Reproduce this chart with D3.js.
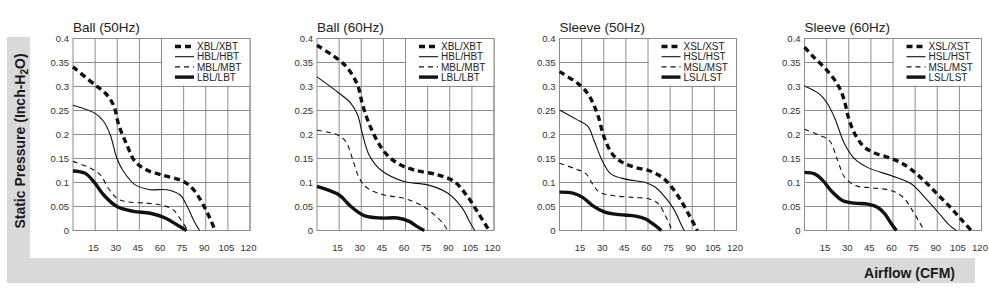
<!DOCTYPE html>
<html>
<head>
<meta charset="utf-8">
<script src="https://cdn.jsdelivr.net/npm/d3@7"></script>
<style>
  body { margin: 0; background: #fff; }
  svg { display: block; font-family: "Liberation Sans", Arial, sans-serif; }
</style>
</head>
<body>
<div id="chart"></div>
<script>
// airflow ticks (CFM) and static pressure ticks (inch H2O)
const xTicks = [15, 30, 45, 60, 75, 90, 105, 120];
const yTicks = [0, 0.05, 0.1, 0.15, 0.2, 0.25, 0.3, 0.35, 0.4];

const titles = ["Ball (50Hz)", "Ball (60Hz)", "Sleeve (50Hz)", "Sleeve (60Hz)"];
const ballNames = ["XBL/XBT", "HBL/HBT", "MBL/MBT", "LBL/LBT"];
const sleeveNames = ["XSL/XST", "HSL/HST", "MSL/MST", "LSL/LST"];

// Ball 50Hz  [cfm, pressure]
const ball50X = [[0,0.341],[15,0.303],[22,0.286],[27.5,0.261],[31,0.22],[36.6,0.178],[42,0.144],[50,0.126],[60,0.116],[75,0.102],[81.7,0.085],[89.6,0.046],[96.4,0]];
const ball50H = [[0,0.261],[15,0.244],[20.8,0.227],[25.3,0.199],[29.8,0.15],[34.3,0.123],[42.2,0.095],[52.4,0.085],[63.7,0.085],[72.7,0.074],[77,0.053],[81.7,0.022],[85.8,0]];
const ball50M = [[0,0.144],[11.7,0.13],[18.5,0.116],[24,0.088],[29.8,0.067],[36.6,0.06],[50,0.057],[60,0.053],[68,0.043],[73.8,0.019],[77,0.005],[78.3,0]];
const ball50L = [[0,0.124],[8.4,0.119],[15,0.098],[20.8,0.074],[29.8,0.05],[41,0.04],[52.4,0.036],[62.5,0.026],[70.4,0.012],[77,0]];

// Ball 60Hz
const ball60X = [[0,0.386],[15,0.355],[20.8,0.338],[27.5,0.303],[31,0.261],[36.6,0.213],[45.6,0.164],[54.6,0.14],[65.9,0.126],[81.7,0.116],[93,0.102],[102,0.071],[110,0.033],[116.7,0]];
const ball60H = [[0,0.32],[15,0.286],[23,0.265],[27.5,0.241],[31,0.199],[35.4,0.157],[43.3,0.126],[59,0.102],[75,0.095],[88.5,0.078],[98.6,0.046],[104,0.015],[107,0]];
const ball60M = [[0,0.209],[14,0.199],[19.6,0.185],[24,0.15],[28.7,0.109],[34.3,0.088],[45.6,0.074],[59,0.067],[70.4,0.053],[79.5,0.033],[86.2,0.012],[88.5,0]];
const ball60L = [[0,0.092],[15,0.074],[23,0.05],[32,0.031],[43.3,0.026],[54.6,0.026],[62.5,0.019],[68,0.008],[72.7,0]];

// Sleeve 50Hz
const sleeve50X = [[0,0.331],[14.6,0.301],[20.2,0.28],[25.8,0.242],[30.3,0.194],[35.9,0.159],[42.6,0.142],[51.6,0.131],[60.5,0.125],[69.5,0.111],[76.2,0.09],[83,0.059],[88.6,0.028],[93.5,0]];
const sleeve50H = [[0,0.251],[11.2,0.232],[19,0.218],[23.5,0.187],[29,0.145],[34.8,0.118],[44.8,0.107],[58.3,0.1],[65,0.09],[71.7,0.069],[77.4,0.045],[84,0.003],[84.8,0]];
const sleeve50M = [[0,0.14],[11.2,0.128],[18,0.118],[22.4,0.097],[26.9,0.08],[35.9,0.073],[49.3,0.069],[60.5,0.066],[67.3,0.055],[71.7,0.031],[75,0.01],[76.2,0]];
const sleeve50L = [[0,0.08],[9,0.078],[15.7,0.069],[22.4,0.052],[30.3,0.039],[40.4,0.033],[51.6,0.03],[58.3,0.024],[65,0.01],[69,0]];

// Sleeve 60Hz
const sleeve60X = [[0,0.382],[6.3,0.361],[14.2,0.337],[22.1,0.306],[26.6,0.275],[30,0.233],[34.5,0.199],[40.2,0.175],[47,0.162],[57,0.152],[65,0.142],[72,0.128],[81,0.104],[90,0.076],[99,0.048],[106,0.024],[113,0]];
const sleeve60H = [[0,0.301],[10.2,0.284],[15.8,0.263],[20.4,0.235],[27.2,0.18],[34,0.149],[43,0.131],[59,0.114],[72.5,0.097],[81.5,0.069],[90.6,0.038],[98.5,0.01],[103,0]];
const sleeve60M = [[0,0.211],[11.3,0.197],[17,0.187],[22.6,0.145],[27.2,0.111],[35,0.093],[45.3,0.089],[59,0.083],[67,0.069],[72.5,0.045],[78,0.017],[81,0]];
const sleeve60L = [[0,0.121],[6.8,0.118],[12.5,0.104],[18,0.083],[26,0.062],[34,0.057],[43,0.055],[49.8,0.048],[54.3,0.035],[58.9,0.014],[62.3,0]];

const panelData = [
  [ball50X, ball50H, ball50M, ball50L],
  [ball60X, ball60H, ball60M, ball60L],
  [sleeve50X, sleeve50H, sleeve50M, sleeve50L],
  [sleeve60X, sleeve60H, sleeve60M, sleeve60L]
];
const panelNames = [ballNames, ballNames, sleeveNames, sleeveNames];

// line styles: thick dashed, thin solid, thin dashed, thick solid
const styles = [
  { w: 3.4, dash: "6,4" },
  { w: 1.1, dash: null },
  { w: 1.1, dash: "5,4" },
  { w: 3.4, dash: null }
];

const W = 989, H = 291;
const svg = d3.select("#chart").append("svg")
  .attr("width", W).attr("height", H);

// grey L-shaped frame
svg.append("rect").attr("x", 7).attr("y", 37).attr("width", 23).attr("height", 246).attr("fill", "#d9d9d9");
svg.append("rect").attr("x", 7).attr("y", 258).attr("width", 968).attr("height", 25).attr("fill", "#d9d9d9");

// axis titles
const yt = svg.append("text")
  .attr("transform", "translate(24.5,141) rotate(-90)")
  .attr("text-anchor", "middle")
  .attr("font-size", 14).attr("font-weight", "bold").attr("fill", "#1a1a1a");
yt.append("tspan").text("Static Pressure (Inch-H");
yt.append("tspan").text("2").attr("font-size", 10).attr("dy", 3);
yt.append("tspan").text("O)").attr("dy", -3);

svg.append("text")
  .attr("x", 955).attr("y", 277.5)
  .attr("text-anchor", "end")
  .attr("font-size", 14).attr("font-weight", "bold").attr("fill", "#1a1a1a")
  .text("Airflow (CFM)");

const lefts = [73, 317, 559.5, 804.5];
const pw = 177, plotTop = 38.5, ph = 192;
const gridColor = "#8c8c8c";

panelData.forEach((series, i) => {
  const x = d3.scaleLinear().domain([0, 120]).range([lefts[i], lefts[i] + pw]);
  const y = d3.scaleLinear().domain([0, 0.4]).range([plotTop + ph, plotTop]);
  const g = svg.append("g");

  g.append("text")
    .attr("x", lefts[i]).attr("y", 31.5)
    .attr("font-size", 13.5).attr("fill", "#222")
    .text(titles[i]);

  // grid
  g.append("g").selectAll("line").data(xTicks).enter().append("line")
    .attr("x1", d => x(d)).attr("x2", d => x(d))
    .attr("y1", y(0)).attr("y2", y(0.4))
    .attr("stroke", gridColor).attr("stroke-width", 1);
  g.append("g").selectAll("line").data(yTicks).enter().append("line")
    .attr("x1", x(0)).attr("x2", x(120))
    .attr("y1", d => y(d)).attr("y2", d => y(d))
    .attr("stroke", gridColor).attr("stroke-width", 1);

  // legend background hides part of the grid
  g.append("rect")
    .attr("x", x(60) + 1).attr("y", y(0.4))
    .attr("width", x(120) - x(60) - 1).attr("height", y(0.3) - y(0.4) - 1)
    .attr("fill", "#fff");

  g.append("rect")
    .attr("x", x(0)).attr("y", y(0.4))
    .attr("width", pw).attr("height", ph)
    .attr("fill", "none").attr("stroke", gridColor).attr("stroke-width", 1);

  // tick labels
  g.append("g").selectAll("text").data(yTicks).enter().append("text")
    .attr("x", x(0) - 4).attr("y", d => y(d) + 3.3)
    .attr("text-anchor", "end").attr("font-size", 9.5).attr("fill", "#333")
    .text(d => String(+d.toFixed(2)));
  g.append("g").selectAll("text").data(xTicks).enter().append("text")
    .attr("x", d => x(d) - 1.5).attr("y", 251)
    .attr("text-anchor", "middle").attr("font-size", 9.5).attr("fill", "#333")
    .text(d => d);

  // curves
  const line = d3.line()
    .x(d => x(d[0])).y(d => y(d[1]))
    .curve(d3.curveCatmullRom.alpha(0.5));
  series.forEach((s, k) => {
    g.append("path")
      .datum(s)
      .attr("d", line)
      .attr("fill", "none")
      .attr("stroke", "#111")
      .attr("stroke-width", styles[k].w)
      .attr("stroke-dasharray", styles[k].dash);
  });

  // legend
  const lg = g.append("g");
  panelNames[i].forEach((name, k) => {
    const ly = 46.5 + k * 10.2;
    lg.append("line")
      .attr("x1", lefts[i] + 102).attr("x2", lefts[i] + 121)
      .attr("y1", ly).attr("y2", ly)
      .attr("stroke", "#111")
      .attr("stroke-width", styles[k].w)
      .attr("stroke-dasharray", styles[k].dash);
    lg.append("text")
      .attr("x", lefts[i] + 124).attr("y", ly + 3.6)
      .attr("font-size", 10).attr("fill", "#222")
      .text(name);
  });
});
</script>
</body>
</html>
